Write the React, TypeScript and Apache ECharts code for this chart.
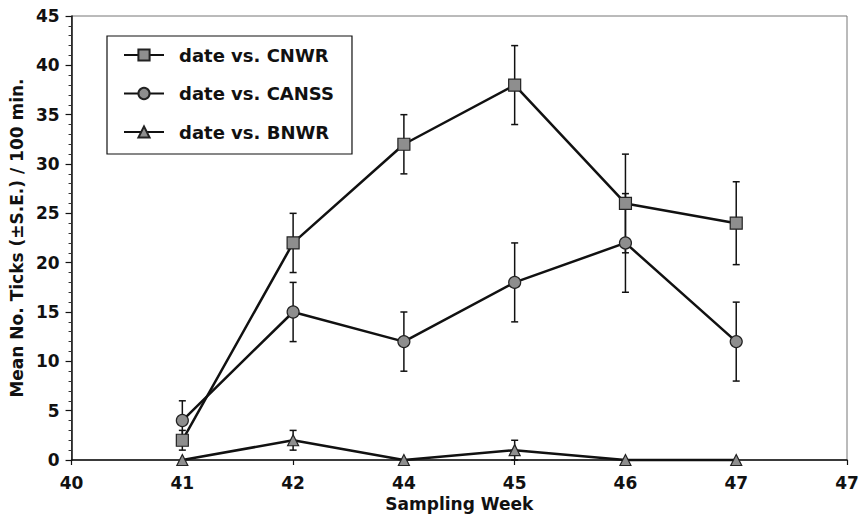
import React, { useEffect, useRef } from "react";
import * as echarts from "echarts";

const weeks = ["40", "41", "42", "44", "45", "46", "47", "47"];
const cnwr = [null, 2, 22, 32, 38, 26, 24, null];
const cnwrErr = [null, 1, 3, 3, 4, 5, 4.2, null];
const canss = [null, 4, 15, 12, 18, 22, 12, null];
const canssErr = [null, 2, 3, 3, 4, 5, 4, null];
const bnwr = [null, 0, 2, 0, 1, 0, 0, null];
const bnwrErr = [null, 0, 1, 0, 1, 0, 0, null];
const yTicks = { min: 0, max: 45, interval: 5 };

const FONT = "DejaVu Sans";

function errData(vals: (number | null)[], errs: (number | null)[]) {
  const out: any[] = [];
  vals.forEach((v, i) => {
    const e = errs[i];
    if (v !== null && e !== null && e > 0) out.push([i, v - e, v + e]);
  });
  return out;
}

function errSeries(vals: (number | null)[], errs: (number | null)[]) {
  return {
    type: "custom",
    data: errData(vals, errs),
    silent: true,
    z: 1,
    clip: false,
    renderItem: (params: any, api: any) => {
      const x = api.value(0);
      const lo = api.coord([x, api.value(1)]);
      const hi = api.coord([x, api.value(2)]);
      const cap = 3.5;
      const style = { stroke: "#111", lineWidth: 1.5 };
      return {
        type: "group",
        children: [
          { type: "line", shape: { x1: lo[0], y1: lo[1], x2: hi[0], y2: hi[1] }, style },
          { type: "line", shape: { x1: hi[0] - cap, y1: hi[1], x2: hi[0] + cap, y2: hi[1] }, style },
          { type: "line", shape: { x1: lo[0] - cap, y1: lo[1], x2: lo[0] + cap, y2: lo[1] }, style },
        ],
      };
    },
  };
}

function lineSeries(name: string, data: (number | null)[], symbol: string, size: number) {
  return {
    name,
    type: "line",
    data,
    symbol,
    symbolSize: size,
    clip: false,
    z: 3,
    lineStyle: { color: "#111", width: 2.5 },
    itemStyle: { color: "#8e8e8e", borderColor: "#222", borderWidth: 1.2 },
  };
}

export default function App() {
  const ref = useRef<HTMLDivElement>(null);
  useEffect(() => {
    if (!ref.current) return;
    const chart = echarts.init(ref.current, undefined, { renderer: "svg" });
    chart.setOption({
      animation: false,
      backgroundColor: "#fff",
      grid: {
        left: 65,
        right: 15,
        top: 16,
        bottom: 61,
        show: true,
        borderColor: "#777",
        borderWidth: 1,
        backgroundColor: "transparent",
      },
      legend: {
        orient: "vertical",
        left: 107,
        top: 36,
        data: ["date vs. CNWR", "date vs. CANSS", "date vs. BNWR"],
        itemWidth: 40,
        itemHeight: 14,
        itemGap: 20.5,
        padding: [10, 18, 13, 16],
        borderColor: "#111",
        borderWidth: 1.2,
        backgroundColor: "#fff",
        textStyle: { fontFamily: FONT, fontWeight: "bold", fontSize: 18, color: "#111", padding: [0, 0, 0, 10] },
      },
      xAxis: {
        type: "category",
        data: weeks,
        boundaryGap: false,
        name: "Sampling Week",
        nameLocation: "middle",
        nameGap: 34,
        nameTextStyle: { fontFamily: FONT, fontWeight: "bold", fontSize: 17, color: "#111" },
        axisLine: { lineStyle: { color: "#111", width: 1.5 } },
        axisTick: { show: true, alignWithLabel: true, length: 5, lineStyle: { color: "#111", width: 1.2 } },
        axisLabel: { fontFamily: FONT, fontWeight: "bold", fontSize: 17, color: "#111", margin: 14, interval: 0 },
        splitLine: { show: false },
      },
      yAxis: {
        type: "value",
        min: yTicks.min,
        max: yTicks.max,
        interval: yTicks.interval,
        name: "Mean No. Ticks (±S.E.) / 100 min.",
        nameLocation: "middle",
        nameGap: 38,
        nameTextStyle: { fontFamily: FONT, fontWeight: "bold", fontSize: 17, color: "#111" },
        axisLine: { show: true, lineStyle: { color: "#111", width: 1.5 } },
        axisTick: { show: true, length: 6, lineStyle: { color: "#111", width: 1.2 } },
        minorTick: { show: true, splitNumber: 5, length: 3, lineStyle: { color: "#333", width: 1 } },
        axisLabel: { fontFamily: FONT, fontWeight: "bold", fontSize: 17, color: "#111", margin: 12 },
        splitLine: { show: false },
      },
      series: [
        errSeries(cnwr, cnwrErr),
        errSeries(canss, canssErr),
        errSeries(bnwr, bnwrErr),
        lineSeries("date vs. CNWR", cnwr, "rect", 12),
        lineSeries("date vs. CANSS", canss, "circle", 12),
        lineSeries("date vs. BNWR", bnwr, "triangle", 11),
      ],
    });
    return () => chart.dispose();
  }, []);
  return <div ref={ref} style={{ position: "absolute", left: 0, top: 0, width: 862, height: 521 }} />;
}
